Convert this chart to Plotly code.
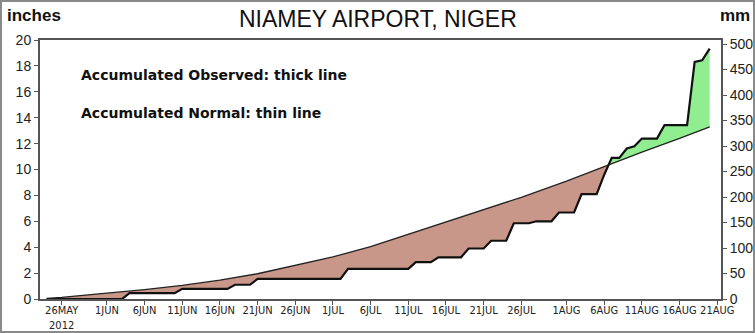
import numpy as np
import pandas as pd
import plotly.graph_objects as go

# Accumulated observed rainfall at Niamey Airport, inches (breakpoints of the daily series)
obs_dates = ["2012-05-24", "2012-06-03", "2012-06-04", "2012-06-10", "2012-06-11",
             "2012-06-17", "2012-06-18", "2012-06-20", "2012-06-21", "2012-07-02",
             "2012-07-03", "2012-07-11", "2012-07-12", "2012-07-14", "2012-07-15",
             "2012-07-18", "2012-07-19", "2012-07-21", "2012-07-22", "2012-07-24",
             "2012-07-25", "2012-07-27", "2012-07-28", "2012-07-30", "2012-07-31",
             "2012-08-02", "2012-08-03", "2012-08-05", "2012-08-06", "2012-08-07",
             "2012-08-08", "2012-08-09", "2012-08-10", "2012-08-11", "2012-08-13",
             "2012-08-14", "2012-08-17", "2012-08-18", "2012-08-19", "2012-08-20"]
obs_in = [0.0, 0.0, 0.45, 0.45, 0.78,
          0.78, 1.10, 1.10, 1.55, 1.55,
          2.33, 2.33, 2.85, 2.85, 3.22,
          3.22, 3.90, 3.90, 4.50, 4.50,
          5.85, 5.85, 6.00, 6.00, 6.68,
          6.68, 8.10, 8.10, 9.60, 10.90,
          10.90, 11.62, 11.80, 12.39, 12.39,
          13.42, 13.42, 18.30, 18.43, 19.33]

# Accumulated normal rainfall, inches
norm_dates = ["2012-05-24", "2012-05-26", "2012-06-01", "2012-06-06", "2012-06-11",
              "2012-06-16", "2012-06-21", "2012-06-26", "2012-07-01", "2012-07-06",
              "2012-07-11", "2012-07-16", "2012-07-21", "2012-07-26", "2012-08-01",
              "2012-08-06", "2012-08-11", "2012-08-16", "2012-08-20"]
norm_in = [0.05, 0.12, 0.45, 0.72, 1.05,
           1.45, 1.95, 2.60, 3.25, 4.05,
           5.00, 5.90, 6.85, 7.85, 9.10,
           10.25, 11.35, 12.40, 13.30]

tick_dates = ["2012-05-26", "2012-06-01", "2012-06-06", "2012-06-11", "2012-06-16",
              "2012-06-21", "2012-06-26", "2012-07-01", "2012-07-06", "2012-07-11",
              "2012-07-16", "2012-07-21", "2012-07-26", "2012-08-01", "2012-08-06",
              "2012-08-11", "2012-08-16", "2012-08-21"]
tick_text = ["26MAY<br>2012", "1JUN", "6JUN", "11JUN", "16JUN",
             "21JUN", "26JUN", "1JUL", "6JUL", "11JUL",
             "16JUL", "21JUL", "26JUL", "1AUG", "6AUG",
             "11AUG", "16AUG", "21AUG"]
inch_ticks = list(range(0, 21, 2))
mm_ticks = list(range(0, 501, 50))

MM_PER_INCH = 25.4
BROWN = "rgb(200,151,137)"
GREEN = "rgb(144,238,144)"
AXIS = "#555555"

base = pd.Timestamp("2012-05-01")


def to_days(ds):
    return np.array([(pd.Timestamp(d) - base) / pd.Timedelta(days=1) for d in ds])


def to_dates(ts):
    return [base + pd.Timedelta(days=float(t)) for t in ts]


t_obs, y_obs = to_days(obs_dates), np.array(obs_in, float)
t_nrm, y_nrm = to_days(norm_dates), np.array(norm_in, float)

# point where the observed total overtakes the normal
diff = y_obs - np.interp(t_obs, t_nrm, y_nrm)
k = int(np.where((diff[:-1] < 0) & (diff[1:] >= 0))[0][0])
f = -diff[k] / (diff[k + 1] - diff[k])
t_x = t_obs[k] + f * (t_obs[k + 1] - t_obs[k])
y_x = y_obs[k] + f * (y_obs[k + 1] - y_obs[k])

# deficit region: normal on top, observed below
bt = np.concatenate([t_nrm[t_nrm < t_x], [t_x], t_obs[t_obs < t_x][::-1]])
by = np.concatenate([y_nrm[t_nrm < t_x], [y_x], y_obs[t_obs < t_x][::-1]])
# surplus region: observed on top, normal below
gt = np.concatenate([[t_x], t_obs[t_obs > t_x], t_nrm[t_nrm > t_x][::-1]])
gy = np.concatenate([[y_x], y_obs[t_obs > t_x], y_nrm[t_nrm > t_x][::-1]])

fig = go.Figure()
fig.add_trace(go.Scatter(x=to_dates(bt), y=by, fill="toself", fillcolor=BROWN,
                         mode="lines", line=dict(color="rgba(0,0,0,0)", width=0),
                         hoverinfo="skip", showlegend=False))
fig.add_trace(go.Scatter(x=to_dates(gt), y=gy, fill="toself", fillcolor=GREEN,
                         mode="lines", line=dict(color="rgba(0,0,0,0)", width=0),
                         hoverinfo="skip", showlegend=False))
# thin normal line, drawn against the millimetre scale
fig.add_trace(go.Scatter(x=norm_dates, y=y_nrm * MM_PER_INCH, yaxis="y2",
                         mode="lines", line=dict(color="#222222", width=1.3),
                         showlegend=False, name="Normal (mm)"))
# thick observed line
fig.add_trace(go.Scatter(x=obs_dates, y=y_obs, mode="lines",
                         line=dict(color="#111111", width=2.2),
                         showlegend=False, name="Observed (in)"))

W, H = 755, 333
ML, MR, MT, MB = 40, 34, 40, 34
PW, PH = W - ML - MR, H - MT - MB


def px(x):
    return (x - ML) / PW


def py(y):
    return (H - MB - y) / PH


tick_font = dict(family="Liberation Sans Narrow, Liberation Sans, Arial", size=14, color="#222")
date_font = dict(family="DejaVu Sans Condensed, Liberation Sans Narrow, Liberation Sans, Arial",
                 size=11, color="#222")

fig.update_layout(
    width=W, height=H,
    margin=dict(l=ML, r=MR, t=MT, b=MB),
    paper_bgcolor="white", plot_bgcolor="white",
    xaxis=dict(type="date", range=["2012-05-23 03:00", "2012-08-21 12:00"],
               tickvals=tick_dates, ticktext=tick_text, tickangle=0,
               tickfont=date_font, automargin=False, ticklabelstandoff=-4,
               ticks="outside", ticklen=4, tickcolor=AXIS, tickwidth=1,
               showline=True, linecolor=AXIS, linewidth=2, mirror=True,
               showgrid=False, zeroline=False, fixedrange=True),
    yaxis=dict(range=[0, 20], tickvals=inch_ticks, tickfont=tick_font, automargin=False,
               ticks="outside", ticklen=4, tickcolor=AXIS, tickwidth=1,
               showline=True, linecolor=AXIS, linewidth=2, mirror=True,
               showgrid=False, zeroline=False, fixedrange=True),
    yaxis2=dict(range=[0, 20 * MM_PER_INCH], tickvals=mm_ticks, tickfont=tick_font,
                overlaying="y", side="right", automargin=False,
                ticks="outside", ticklen=4, tickcolor=AXIS, tickwidth=1,
                showline=True, linecolor=AXIS, linewidth=2,
                showgrid=False, zeroline=False, fixedrange=True),
    annotations=[
        dict(text="NIAMEY AIRPORT, NIGER", xref="paper", yref="paper",
             x=px(378), y=py(19), xanchor="center", yanchor="middle", showarrow=False,
             font=dict(family="Liberation Sans, Arial", size=23, color="#111")),
        dict(text="<b>inches</b>", xref="paper", yref="paper",
             x=px(5), y=py(27), xanchor="left", yanchor="bottom", showarrow=False,
             font=dict(family="Liberation Sans, Arial", size=17, color="#111")),
        dict(text="<b>mm</b>", xref="paper", yref="paper",
             x=px(752), y=py(27), xanchor="right", yanchor="bottom", showarrow=False,
             font=dict(family="Liberation Sans, Arial", size=17, color="#111")),
        dict(text="<b>Accumulated Observed: thick line</b>", xref="paper", yref="paper",
             x=px(79), y=py(75), xanchor="left", yanchor="middle", showarrow=False,
             font=dict(family="DejaVu Sans, Arial", size=14, color="#111")),
        dict(text="<b>Accumulated Normal: thin line</b>", xref="paper", yref="paper",
             x=px(79), y=py(113), xanchor="left", yanchor="middle", showarrow=False,
             font=dict(family="DejaVu Sans, Arial", size=14, color="#111")),
    ],
    shapes=[dict(type="rect", xref="paper", yref="paper",
                 x0=px(1), x1=px(W - 1), y0=py(H - 1), y1=py(1),
                 line=dict(color="#8a8a8a", width=2), fillcolor="rgba(0,0,0,0)",
                 layer="below")],
)

fig.write_html("out.html")
